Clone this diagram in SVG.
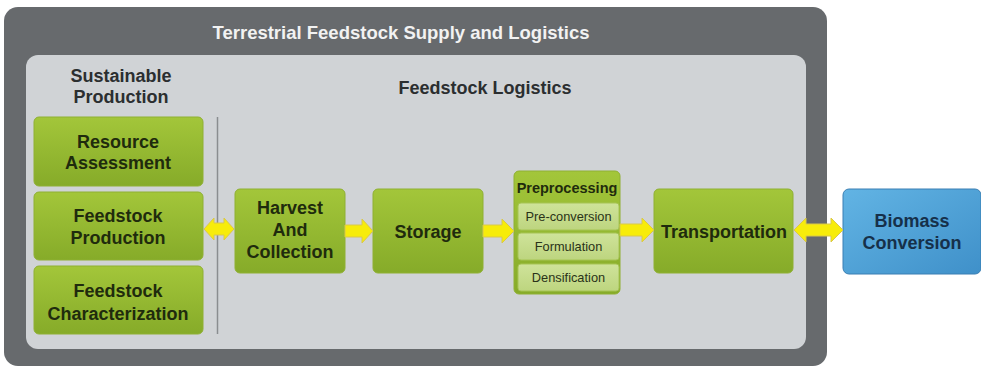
<svg xmlns="http://www.w3.org/2000/svg" width="981" height="368" viewBox="0 0 981 368">
<defs>
<linearGradient id="g" x1="0" y1="0" x2="0" y2="1"><stop offset="0" stop-color="#a3c63a"/><stop offset="1" stop-color="#86ab29"/></linearGradient>
<linearGradient id="gs" x1="0" y1="0" x2="0" y2="1"><stop offset="0" stop-color="#cfe39a"/><stop offset="1" stop-color="#bdd57f"/></linearGradient>
<linearGradient id="b" x1="0" y1="0" x2="1" y2="1"><stop offset="0" stop-color="#62b4e4"/><stop offset="1" stop-color="#3f90c9"/></linearGradient>
<style>
.box{fill:url(#g);stroke:#8fb032;stroke-width:1}
.sub{fill:url(#gs);stroke:#a6c455;stroke-width:1}
.t{font-family:"Liberation Sans",Arial,sans-serif;font-weight:bold;font-size:18px;fill:#1f2b0d;text-anchor:middle}
.s{font-family:"Liberation Sans",Arial,sans-serif;font-size:12.8px;fill:#2a3318;text-anchor:middle}
.h{font-family:"Liberation Sans",Arial,sans-serif;font-weight:bold;font-size:18px;fill:#2b2e30;text-anchor:middle}
.arr{fill:#f7ec0a;stroke:#d9c84a;stroke-width:1}
</style>
</defs>
<g id="outer">
<rect x="4" y="7" width="823" height="359" rx="14" fill="#676a6d"/>
<text x="401" y="39" class="h" style="fill:#f2f2f2;font-size:18.5px">Terrestrial Feedstock Supply and Logistics</text>
</g>
<g id="inner">
<rect x="26" y="55" width="780" height="294" rx="12" fill="#d0d3d6"/>
<text x="121" y="82" class="h">Sustainable</text>
<text x="121" y="103" class="h">Production</text>
<text x="485" y="94" class="h">Feedstock Logistics</text>
<line x1="217.5" y1="117" x2="217.5" y2="334" stroke="#8a8d90" stroke-width="1.5"/>
</g>
<g id="resource-assessment">
<rect x="34" y="117" width="169" height="69" rx="5" class="box"/>
<text x="118" y="148" class="t">Resource</text>
<text x="118" y="169" class="t">Assessment</text>
</g>
<g id="feedstock-production">
<rect x="34" y="192" width="169" height="68" rx="5" class="box"/>
<text x="118" y="222" class="t">Feedstock</text>
<text x="118" y="244" class="t">Production</text>
</g>
<g id="feedstock-characterization">
<rect x="34" y="266" width="169" height="68" rx="5" class="box"/>
<text x="118" y="297" class="t">Feedstock</text>
<text x="118" y="320" class="t">Characterization</text>
</g>
<g id="harvest">
<rect x="235" y="189" width="110" height="84" rx="5" class="box"/>
<text x="290" y="214" class="t">Harvest</text>
<text x="290" y="236" class="t">And</text>
<text x="290" y="258" class="t">Collection</text>
</g>
<g id="storage">
<rect x="373" y="189" width="110" height="84" rx="5" class="box"/>
<text x="428" y="238" class="t">Storage</text>
</g>
<g id="preprocessing">
<rect x="514" y="171" width="106" height="123" rx="5" class="box"/>
<text x="567" y="193" class="t" style="font-size:14.5px">Preprocessing</text>
<rect x="518" y="203" width="101" height="27" rx="3" class="sub"/>
<text x="568.5" y="221" class="s">Pre-conversion</text>
<rect x="518" y="233" width="101" height="27" rx="3" class="sub"/>
<text x="568.5" y="251" class="s">Formulation</text>
<rect x="518" y="264" width="101" height="27" rx="3" class="sub"/>
<text x="568.5" y="282" class="s">Densification</text>
</g>
<g id="transportation">
<rect x="654" y="189" width="139" height="84" rx="5" class="box"/>
<text x="724" y="238" class="t">Transportation</text>
</g>
<g id="biomass-conversion">
<rect x="843" y="189" width="138" height="85" rx="6" fill="url(#b)" stroke="#3a7fb3" stroke-width="1"/>
<text x="912" y="227" class="t" style="fill:#16304a">Biomass</text>
<text x="912" y="249" class="t" style="fill:#16304a">Conversion</text>
</g>
<g id="connectors">
<path class="arr" d="M204,229 L214,218 L214,223 L224,223 L224,218 L234,229 L224,240 L224,235 L214,235 L214,240 Z"/>
<path class="arr" d="M345,225 L362,225 L362,219 L373,231 L362,243 L362,237 L345,237 Z"/>
<path class="arr" d="M483,225 L502,225 L502,219 L514,231 L502,243 L502,237 L483,237 Z"/>
<path class="arr" d="M620,224 L642,224 L642,218 L654,230 L642,242 L642,236 L620,236 Z"/>
<path class="arr" d="M794,230 L806,218 L806,224 L831,224 L831,218 L843,230 L831,242 L831,236 L806,236 L806,242 Z"/>
</g>
</svg>
